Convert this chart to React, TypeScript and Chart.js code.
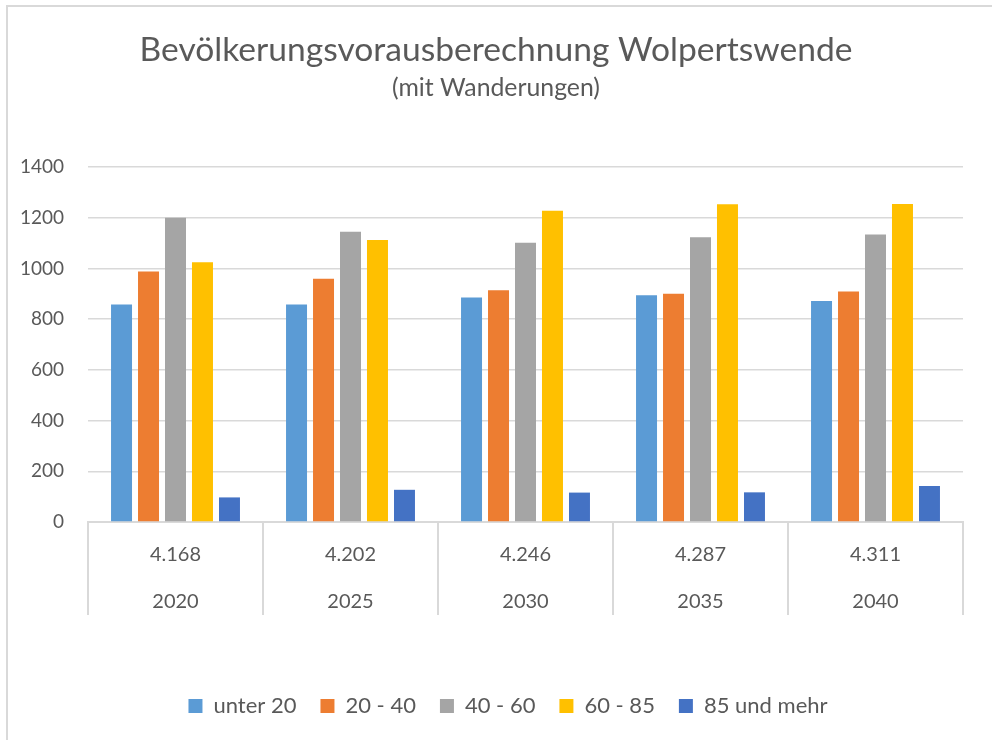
import React, { useEffect, useRef } from "react";
import { Chart, registerables } from "chart.js";

Chart.register(...registerables);

const years = ["2020", "2025", "2030", "2035", "2040"];
const totals = ["4.168", "4.202", "4.246", "4.287", "4.311"];
const seriesNames = ["unter 20", "20 - 40", "40 - 60", "60 - 85", "85 und mehr"];
const under20 = [858, 858, 886, 894, 872];
const age20to40 = [988, 960, 914, 900, 909];
const age40to60 = [1200, 1145, 1102, 1123, 1134];
const age60to85 = [1025, 1112, 1228, 1253, 1254];
const age85plus = [97, 127, 116, 117, 142];
const seriesColors = ["#5B9BD5", "#ED7D31", "#A5A5A5", "#FFC000", "#4472C4"];
const yMin = 0;
const yMax = 1400;
const yStep = 200;

const titleText = "Bevölkerungsvorausberechnung Wolpertswende";
const subtitleText = "(mit Wanderungen)";

const FONT = "Lato, 'Open Sans', sans-serif";
const TEXT = "#595959";
const GRID = "#d9d9d9";

// draws the table-like separators between the category cells below the x axis
const categorySeparators = {
  id: "categorySeparators",
  afterUpdate(chart: any) {
    // the legend sits slightly right of centre in the reference
    if (chart.legend) {
      chart.legend.left += 12;
      chart.legend.right += 12;
    }
  },
  afterDraw(chart: any) {
    const xs = chart.scales.x;
    const area = chart.chartArea;
    const n = xs.ticks.length;
    if (!n) return;
    const half = n > 1 ? (xs.getPixelForTick(1) - xs.getPixelForTick(0)) / 2 : (area.right - area.left) / 2;
    const ctx = chart.ctx;
    ctx.save();
    ctx.strokeStyle = GRID;
    ctx.lineWidth = 2;
    ctx.beginPath();
    for (let i = 0; i <= n; i++) {
      const x = i < n ? xs.getPixelForTick(i) - half : xs.getPixelForTick(n - 1) + half;
      ctx.moveTo(x, area.bottom);
      ctx.lineTo(x, area.bottom + 93);
    }
    ctx.stroke();
    ctx.restore();
  },
};

export default function App() {
  const ref = useRef<HTMLCanvasElement | null>(null);

  useEffect(() => {
    if (!ref.current) return;
    const values = [under20, age20to40, age40to60, age60to85, age85plus];
    const chart = new Chart(ref.current, {
      type: "bar",
      data: {
        labels: years.map((y, i) => [totals[i], y]),
        datasets: seriesNames.map((name, i) => ({
          label: name,
          data: values[i],
          backgroundColor: seriesColors[i],
          borderWidth: 0,
          categoryPercentage: 0.771,
          barPercentage: 0.778,
        })),
      },
      options: {
        animation: false,
        responsive: false,
        devicePixelRatio: 1,
        layout: { padding: { left: 0, right: 0, top: 0, bottom: 13 } },
        plugins: {
          title: {
            display: true,
            text: titleText,
            color: TEXT,
            font: { family: FONT, size: 33.6, weight: "normal", lineHeight: 1.2 },
            padding: { top: 29.8, bottom: 0 },
          },
          subtitle: {
            display: true,
            text: subtitleText,
            color: TEXT,
            font: { family: FONT, size: 24.8, weight: "normal", lineHeight: 1.2 },
            padding: { top: 3, bottom: 64.2 },
          },
          legend: {
            position: "bottom",
            labels: {
              color: TEXT,
              font: { family: FONT, size: 22 },
              boxWidth: 14,
              boxHeight: 14,
              padding: 24,
            },
          },
          tooltip: { enabled: false },
        },
        scales: {
          x: {
            grid: { display: false },
            border: { display: true, color: GRID, width: 2 },
            ticks: {
              color: TEXT,
              font: { family: FONT, size: 20, lineHeight: 2.35 },
              padding: 1,
              maxRotation: 0,
              autoSkip: false,
            },
            afterFit(scale: any) {
              scale.height = 149;
            },
          },
          y: {
            min: yMin,
            max: yMax,
            grid: { color: GRID, lineWidth: 1.5, drawTicks: false },
            border: { display: false },
            ticks: {
              stepSize: yStep,
              color: TEXT,
              font: { family: FONT, size: 19 },
              padding: 24,
              callback: (v: any) => String(v),
            },
            afterFit(scale: any) {
              scale.width = 88;
            },
          },
          yRight: {
            position: "right",
            display: true,
            grid: { display: false, drawTicks: false },
            border: { display: false },
            ticks: { display: false },
            afterFit(scale: any) {
              scale.width = 29;
            },
          },
        },
      },
      plugins: [categorySeparators],
    });
    return () => chart.destroy();
  }, []);

  return (
    <div>
      <canvas
        ref={ref}
        width={992}
        height={740}
        style={{ position: "fixed", left: 0, top: 0, width: 992, height: 740 }}
      />
      <div
        style={{
          position: "fixed",
          left: 6,
          top: 5,
          width: 2000,
          height: 2000,
          borderLeft: `2px solid ${GRID}`,
          borderTop: `2px solid ${GRID}`,
          pointerEvents: "none",
        }}
      />
    </div>
  );
}
